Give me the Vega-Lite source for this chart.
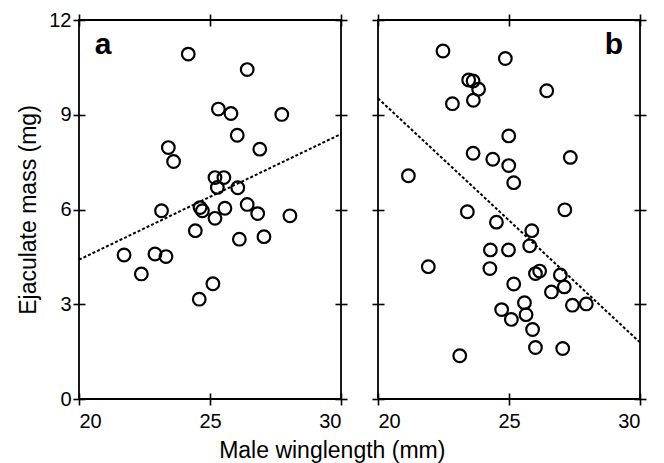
{
  "$schema": "https://vega.github.io/schema/vega-lite/v6.json",
  "background": "white",
  "padding": {"left": 16, "top": 9, "right": 5, "bottom": 1},
  "config": {
    "font": "Liberation Sans",
    "view": {"stroke": "black", "strokeWidth": 1.8},
    "axis": {"domain": false, "grid": false, "tickColor": "black", "tickWidth": 1.6, "tickSize": 12, "offset": -6, "labelColor": "black", "labelFontSize": 20, "labelPadding": 6, "titleColor": "black", "titleFontSize": 23, "titleFontWeight": "normal"},
    "title": {"color": "black", "fontSize": 23, "fontWeight": "normal"}
  },
  "title": {"text": "Male winglength (mm)", "orient": "bottom", "anchor": "middle", "offset": 8},
  "bounds": "flush",
  "spacing": 37,
  "datasets": {
    "points": [
      {"panel": "a", "wing": 24.17, "mass": 10.92}, {"panel": "a", "wing": 26.42, "mass": 10.43}, {"panel": "a", "wing": 25.32, "mass": 9.18}, {"panel": "a", "wing": 25.8, "mass": 9.04}, {"panel": "a", "wing": 27.74, "mass": 9.01}, {"panel": "a", "wing": 26.04, "mass": 8.35}, {"panel": "a", "wing": 23.41, "mass": 7.96}, {"panel": "a", "wing": 23.61, "mass": 7.52}, {"panel": "a", "wing": 26.9, "mass": 7.91}, {"panel": "a", "wing": 25.19, "mass": 7.01}, {"panel": "a", "wing": 25.53, "mass": 7.01}, {"panel": "a", "wing": 25.28, "mass": 6.7}, {"panel": "a", "wing": 26.06, "mass": 6.69}, {"panel": "a", "wing": 23.15, "mass": 5.96}, {"panel": "a", "wing": 24.62, "mass": 6.06}, {"panel": "a", "wing": 24.71, "mass": 5.96}, {"panel": "a", "wing": 25.57, "mass": 6.04}, {"panel": "a", "wing": 26.42, "mass": 6.16}, {"panel": "a", "wing": 26.82, "mass": 5.87}, {"panel": "a", "wing": 25.19, "mass": 5.72}, {"panel": "a", "wing": 28.05, "mass": 5.8}, {"panel": "a", "wing": 24.44, "mass": 5.33}, {"panel": "a", "wing": 26.12, "mass": 5.06}, {"panel": "a", "wing": 27.06, "mass": 5.14}, {"panel": "a", "wing": 21.72, "mass": 4.56}, {"panel": "a", "wing": 22.9, "mass": 4.59}, {"panel": "a", "wing": 23.32, "mass": 4.51}, {"panel": "a", "wing": 22.38, "mass": 3.96}, {"panel": "a", "wing": 25.11, "mass": 3.65}, {"panel": "a", "wing": 24.59, "mass": 3.16},
      {"panel": "b", "wing": 22.48, "mass": 11.02}, {"panel": "b", "wing": 24.86, "mass": 10.78}, {"panel": "b", "wing": 23.46, "mass": 10.1}, {"panel": "b", "wing": 23.63, "mass": 10.07}, {"panel": "b", "wing": 23.84, "mass": 9.81}, {"panel": "b", "wing": 26.44, "mass": 9.76}, {"panel": "b", "wing": 22.84, "mass": 9.35}, {"panel": "b", "wing": 23.64, "mass": 9.46}, {"panel": "b", "wing": 24.99, "mass": 8.33}, {"panel": "b", "wing": 23.63, "mass": 7.78}, {"panel": "b", "wing": 24.38, "mass": 7.59}, {"panel": "b", "wing": 24.99, "mass": 7.39}, {"panel": "b", "wing": 27.34, "mass": 7.65}, {"panel": "b", "wing": 21.16, "mass": 7.07}, {"panel": "b", "wing": 25.18, "mass": 6.85}, {"panel": "b", "wing": 23.41, "mass": 5.93}, {"panel": "b", "wing": 24.52, "mass": 5.6}, {"panel": "b", "wing": 27.13, "mass": 5.99}, {"panel": "b", "wing": 25.87, "mass": 5.33}, {"panel": "b", "wing": 25.79, "mass": 4.85}, {"panel": "b", "wing": 24.29, "mass": 4.72}, {"panel": "b", "wing": 24.98, "mass": 4.72}, {"panel": "b", "wing": 21.92, "mass": 4.19}, {"panel": "b", "wing": 24.27, "mass": 4.13}, {"panel": "b", "wing": 26.17, "mass": 4.05}, {"panel": "b", "wing": 26.01, "mass": 3.97}, {"panel": "b", "wing": 26.96, "mass": 3.93}, {"panel": "b", "wing": 25.18, "mass": 3.64}, {"panel": "b", "wing": 27.11, "mass": 3.55}, {"panel": "b", "wing": 26.62, "mass": 3.39}, {"panel": "b", "wing": 25.59, "mass": 3.05}, {"panel": "b", "wing": 27.42, "mass": 2.97}, {"panel": "b", "wing": 27.95, "mass": 3.01}, {"panel": "b", "wing": 24.72, "mass": 2.83}, {"panel": "b", "wing": 25.65, "mass": 2.67}, {"panel": "b", "wing": 25.09, "mass": 2.52}, {"panel": "b", "wing": 25.9, "mass": 2.2}, {"panel": "b", "wing": 26.01, "mass": 1.63}, {"panel": "b", "wing": 27.05, "mass": 1.6}, {"panel": "b", "wing": 23.12, "mass": 1.37}
    ],
    "lines": [
      {"panel": "a", "wing": 20, "mass": 4.41}, {"panel": "a", "wing": 30, "mass": 8.39},
      {"panel": "b", "wing": 20, "mass": 9.52}, {"panel": "b", "wing": 30, "mass": 1.79}
    ],
    "letters": [
      {"panel": "a", "wing": 20.6, "mass": 10.93, "label": "a"},
      {"panel": "b", "wing": 28.65, "mass": 10.93, "label": "b"}
    ]
  },
  "hconcat": [
    {
      "width": 262, "height": 379,
      "resolve": {"axis": {"x": "independent", "y": "independent"}},
      "layer": [
        {
          "data": {"name": "points"},
          "transform": [{"filter": "datum.panel === 'a'"}],
          "mark": {"type": "point", "shape": "circle", "filled": false, "stroke": "black", "strokeWidth": 2.2, "size": 160, "opacity": 1},
          "encoding": {
            "x": {"field": "wing", "type": "quantitative", "scale": {"domain": [20, 30], "nice": false, "zero": false}, "axis": {"orient": "bottom", "values": [20, 25, 30], "title": null}},
            "y": {"field": "mass", "type": "quantitative", "scale": {"domain": [0, 12], "nice": false}, "axis": {"orient": "left", "values": [0, 3, 6, 9, 12], "title": "Ejaculate mass (mg)", "titlePadding": 8, "labelPadding": 2}}
          }
        },
        {
          "data": {"name": "lines"},
          "transform": [{"filter": "datum.panel === 'a'"}],
          "mark": {"type": "line", "color": "black", "strokeWidth": 2, "strokeDash": [3, 2]},
          "encoding": {
            "x": {"field": "wing", "type": "quantitative", "axis": {"orient": "top", "values": [20, 25, 30], "labels": false, "title": null}},
            "y": {"field": "mass", "type": "quantitative", "axis": {"orient": "right", "values": [0, 3, 6, 9, 12], "labels": false, "title": null}}
          }
        },
        {
          "data": {"name": "letters"},
          "transform": [{"filter": "datum.panel === 'a'"}],
          "mark": {"type": "text", "align": "left", "baseline": "alphabetic", "fontSize": 30, "fontWeight": "bold", "color": "black"},
          "encoding": {
            "x": {"field": "wing", "type": "quantitative", "axis": null},
            "y": {"field": "mass", "type": "quantitative", "axis": null},
            "text": {"field": "label"}
          }
        }
      ]
    },
    {
      "width": 262, "height": 379,
      "resolve": {"axis": {"x": "independent", "y": "independent"}},
      "layer": [
        {
          "data": {"name": "points"},
          "transform": [{"filter": "datum.panel === 'b'"}],
          "mark": {"type": "point", "shape": "circle", "filled": false, "stroke": "black", "strokeWidth": 2.2, "size": 160, "opacity": 1},
          "encoding": {
            "x": {"field": "wing", "type": "quantitative", "scale": {"domain": [20, 30], "nice": false, "zero": false}, "axis": {"orient": "bottom", "values": [20, 25, 30], "title": null}},
            "y": {"field": "mass", "type": "quantitative", "scale": {"domain": [0, 12], "nice": false}, "axis": {"orient": "left", "values": [0, 3, 6, 9, 12], "labels": false, "title": null}}
          }
        },
        {
          "data": {"name": "lines"},
          "transform": [{"filter": "datum.panel === 'b'"}],
          "mark": {"type": "line", "color": "black", "strokeWidth": 2, "strokeDash": [3, 2]},
          "encoding": {
            "x": {"field": "wing", "type": "quantitative", "axis": {"orient": "top", "values": [20, 25, 30], "labels": false, "title": null}},
            "y": {"field": "mass", "type": "quantitative", "axis": {"orient": "right", "values": [0, 3, 6, 9, 12], "labels": false, "title": null}}
          }
        },
        {
          "data": {"name": "letters"},
          "transform": [{"filter": "datum.panel === 'b'"}],
          "mark": {"type": "text", "align": "left", "baseline": "alphabetic", "fontSize": 30, "fontWeight": "bold", "color": "black"},
          "encoding": {
            "x": {"field": "wing", "type": "quantitative", "axis": null},
            "y": {"field": "mass", "type": "quantitative", "axis": null},
            "text": {"field": "label"}
          }
        }
      ]
    }
  ]
}
